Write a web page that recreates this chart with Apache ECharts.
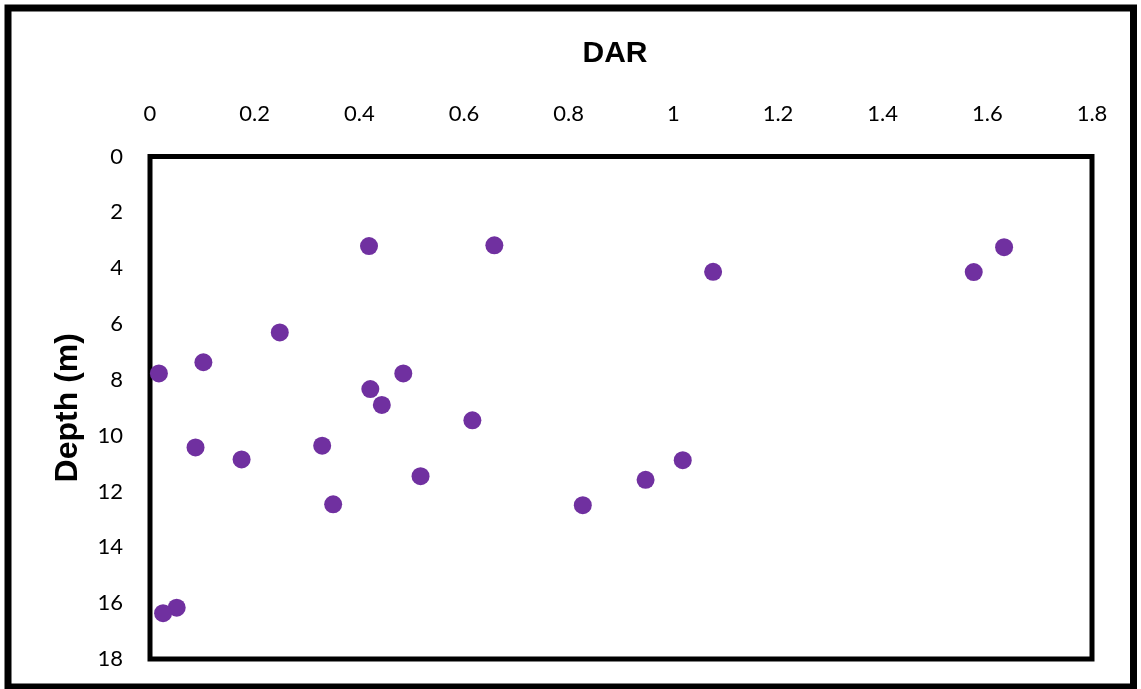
<!DOCTYPE html>
<html>
<head>
<meta charset="utf-8">
<title>DAR vs Depth</title>
<script src="https://cdn.jsdelivr.net/npm/echarts@6/dist/echarts.min.js"></script>
<style>
  html, body { margin: 0; padding: 0; background: #fff; }
  #chart { width: 1141px; height: 689px; }
</style>
</head>
<body>
<div id="chart"></div>
<script>
// DAR measurements by depth
const dar = [0.4185, 0.658, 1.632, 1.574, 1.076, 0.248, 0.102, 0.017, 0.484, 0.421, 0.443,
             0.616, 0.087, 0.329, 0.175, 1.018, 0.517, 0.947, 0.350, 0.827, 0.051, 0.025];
const depth = [3.21, 3.18, 3.25, 4.14, 4.13, 6.30, 7.37, 7.77, 7.77, 8.33, 8.90,
               9.45, 10.42, 10.36, 10.85, 10.88, 11.45, 11.58, 12.46, 12.49, 16.16, 16.36];

const xTitle = 'DAR';
const yTitle = 'Depth (m)';

const points = dar.map((v, i) => [v, depth[i]]);

const chart = echarts.init(document.getElementById('chart'), null, { renderer: 'canvas' });
const tickFont = 'Lato, "Open Sans", sans-serif';
const titleFont = '"Liberation Sans", Arial, sans-serif';

chart.setOption({
  animation: false,
  backgroundColor: '#fff',
  graphic: [{
    type: 'rect',
    shape: { x: 8, y: 8, width: 1125.5, height: 679 },
    style: { fill: 'none', stroke: '#000', lineWidth: 7 },
    z: 10
  }],
  grid: {
    left: 150, top: 156.5, width: 942, height: 502.5,
    show: true, borderColor: '#000', borderWidth: 5, backgroundColor: 'transparent'
  },
  xAxis: {
    type: 'value', position: 'top', min: 0, max: 1.8, interval: 0.2,
    name: xTitle, nameLocation: 'middle', nameGap: 88,
    nameTextStyle: {
      fontFamily: titleFont, fontSize: 30, fontWeight: 'bold', color: '#000',
      padding: [0, 12, 0, 0]
    },
    axisLine: { show: false }, axisTick: { show: false }, splitLine: { show: false },
    axisLabel: {
      margin: 32, fontFamily: tickFont, fontSize: 22, color: '#000',
      formatter: v => String(Math.round(v * 10) / 10)
    }
  },
  yAxis: {
    type: 'value', inverse: true, min: 0, max: 18, interval: 2,
    name: yTitle, nameLocation: 'middle', nameGap: 66, nameRotate: 90,
    nameTextStyle: { fontFamily: titleFont, fontSize: 32, fontWeight: 'bold', color: '#000' },
    axisLine: { show: false }, axisTick: { show: false }, splitLine: { show: false },
    axisLabel: { margin: 27, fontFamily: tickFont, fontSize: 22, color: '#000' }
  },
  series: [{
    type: 'scatter',
    data: points,
    symbol: 'circle',
    symbolSize: 18,
    itemStyle: { color: '#7030A0', opacity: 1 }
  }]
});
</script>
</body>
</html>
